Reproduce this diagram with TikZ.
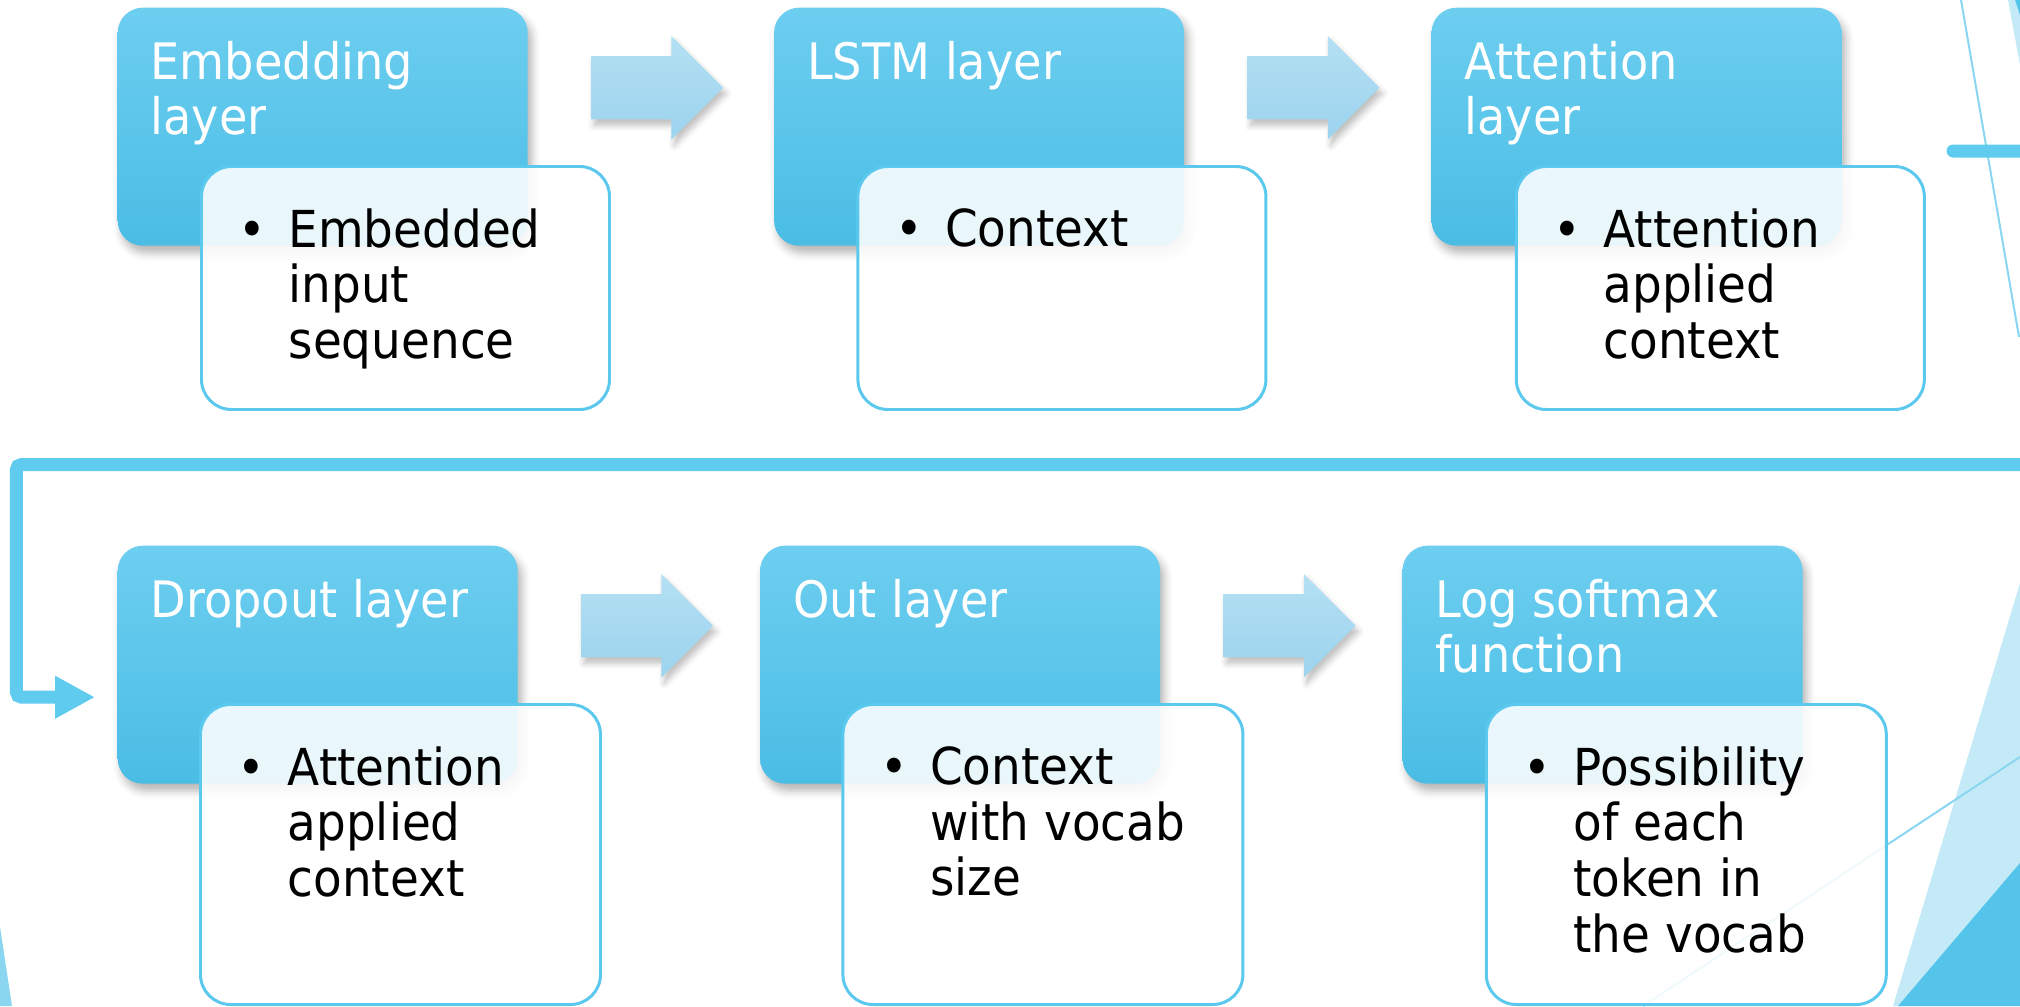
\documentclass[tikz,border=0pt]{standalone}
\usepackage{fontspec}
\setmainfont{DejaVu Sans}[FakeStretch=0.92]
\usetikzlibrary{positioning,shapes.arrows,arrows.meta,shadows.blur}

\definecolor{boxtop}{HTML}{6DCEF0}
\definecolor{boxbot}{HTML}{4ABDE5}
\definecolor{edge}{HTML}{5BC8EE}
\definecolor{arrtop}{HTML}{B4E0F3}
\definecolor{arrbot}{HTML}{9CD3EE}
\definecolor{flow}{HTML}{5ECBEF}
\definecolor{pale}{HTML}{C5EAF7}
\definecolor{deep}{HTML}{55C4EA}
\definecolor{hairblue}{HTML}{8AD6F1}

\newcommand{\bul}[1]{\makebox[5mm][l]{\textbullet}\parbox[t]{3.2cm}{#1}}

\begin{document}
\begin{tikzpicture}[
	layer/.style={anchor=north west, rounded corners=2.5mm, top color=boxtop, bottom color=boxbot, minimum width=4.1cm, minimum height=2.38cm, inner sep=0pt,
		blur shadow={shadow xshift=0.4mm, shadow yshift=-0.7mm, shadow blur radius=0.8mm, shadow opacity=30}},
	lowlayer/.style={layer, minimum width=4cm},
	note/.style={anchor=north west, draw=edge, line width=0.85pt, fill=white, fill opacity=0.88, rounded corners=3mm, minimum width=4.08cm, minimum height=2.43cm, inner sep=0pt},
	lownote/.style={note, minimum width=4cm, minimum height=3cm},
	ltitle/.style={anchor=north west, inner sep=0pt, align=left, text=white, font=\fontsize{14.3pt}{15.4pt}\selectfont},
	ntext/.style={anchor=north west, inner sep=0pt, font=\fontsize{14.5pt}{15.8pt}\selectfont},
	flowarrow/.style={single arrow, anchor=west, inner xsep=0pt, inner ysep=3.1mm, minimum height=1.32cm, single arrow head extend=0.2cm, single arrow tip angle=90, top color=arrtop, bottom color=arrbot,
		blur shadow={shadow xshift=0.3mm, shadow yshift=-0.6mm, shadow blur radius=0.6mm, shadow opacity=25}},
	loopline/.style={draw=flow, line width=1.3mm, line cap=round, rounded corners=0.5mm, -{Triangle[width=4mm,length=4mm]}},
	thinline/.style={draw=hairblue, line width=0.2mm}
	]
	\useasboundingbox (0,0) rectangle (20.2,10.06);
	
	% corner decoration
	\fill[pale] (20.2,4.23) -- (18.93,0) -- (20.2,0) -- cycle;
	\fill[deep] (20.2,1.43) -- (18.98,0) -- (20.2,0) -- cycle;
	\draw[thinline] (20.2,2.49) -- (16.43,0);
	\draw[thinline] (19.61,10.06) -- (20.19,6.69);
	\fill[pale] (20.08,10.06) -- (20.2,10.06) -- (20.2,9.41) -- cycle;
	\fill[deep] (20.15,10.06) -- (20.2,10.06) -- (20.2,9.91) -- cycle;
	\fill[hairblue] (0,0.79) -- (0.12,0) -- (0,0) -- cycle;
	
	% first row
	\node[layer] (emb) at (1.17,9.99) {};
	\node[layer, right=2.45cm of emb] (lstm) {};
	\node[layer, right=2.46cm of lstm] (att) {};
	\node[flowarrow] (a1) at ([xshift=6.2mm,yshift=3.9mm]emb.east) {};
	\node[flowarrow] (a2) at ([xshift=6.2mm,yshift=3.9mm]lstm.east) {};
	\node[note] (embn) at ([xshift=8.3mm,yshift=-15.8mm]emb.north west) {};
	\node[note] (lstmn) at ([xshift=8.3mm,yshift=-15.8mm]lstm.north west) {};
	\node[note] (attn) at ([xshift=8.4mm,yshift=-15.8mm]att.north west) {};
	
	\node[ltitle] at ([xshift=3.3mm,yshift=-3.4mm]emb.north west) {Embedding\\layer};
	\node[ltitle] at ([xshift=3.3mm,yshift=-3.4mm]lstm.north west) {LSTM layer};
	\node[ltitle] at ([xshift=3.3mm,yshift=-3.4mm]att.north west) {Attention\\layer};
	\node[ntext] at ([xshift=3.8mm,yshift=-4.3mm]embn.north west) {\bul{Embedded\\input\\sequence}};
	\node[ntext] at ([xshift=3.8mm,yshift=-4.3mm]lstmn.north west) {\bul{Context}};
	\node[ntext] at ([xshift=3.8mm,yshift=-4.3mm]attn.north west) {\bul{Attention\\applied\\context}};
	
	% second row
	\node[lowlayer] (drop) at (1.17,4.61) {};
	\node[lowlayer, right=2.41cm of drop] (outl) {};
	\node[lowlayer, right=2.41cm of outl] (logsm) {};
	\node[flowarrow] (a3) at ([xshift=6.2mm,yshift=3.9mm]drop.east) {};
	\node[flowarrow] (a4) at ([xshift=6.2mm,yshift=3.9mm]outl.east) {};
	\node[lownote] (dropn) at ([xshift=8.2mm,yshift=-15.8mm]drop.north west) {};
	\node[lownote] (outln) at ([xshift=8.2mm,yshift=-15.8mm]outl.north west) {};
	\node[lownote] (logsmn) at ([xshift=8.3mm,yshift=-15.8mm]logsm.north west) {};
	
	\node[ltitle] at ([xshift=3.3mm,yshift=-3.4mm]drop.north west) {Dropout layer};
	\node[ltitle] at ([xshift=3.3mm,yshift=-3.4mm]outl.north west) {Out layer};
	\node[ltitle] at ([xshift=3.3mm,yshift=-3.4mm]logsm.north west) {Log softmax\\function};
	\node[ntext] at ([xshift=3.8mm,yshift=-4.3mm]dropn.north west) {\bul{Attention\\applied\\context}};
	\node[ntext] at ([xshift=3.8mm,yshift=-4.3mm]outln.north west) {\bul{Context\\with vocab\\size}};
	\node[ntext] at ([xshift=3.8mm,yshift=-4.3mm]logsmn.north west) {\bul{Possibility\\of each\\token in\\the vocab}};
	
	% wrap from first row to second row
	\coordinate (loopstart) at (19.53,8.55);
	\draw[loopline] (loopstart) -- ++(1.2,0) |- (0.165,5.415) |- ([xshift=-2.2mm,yshift=-3.25mm]drop.west);
\end{tikzpicture}
\end{document}
